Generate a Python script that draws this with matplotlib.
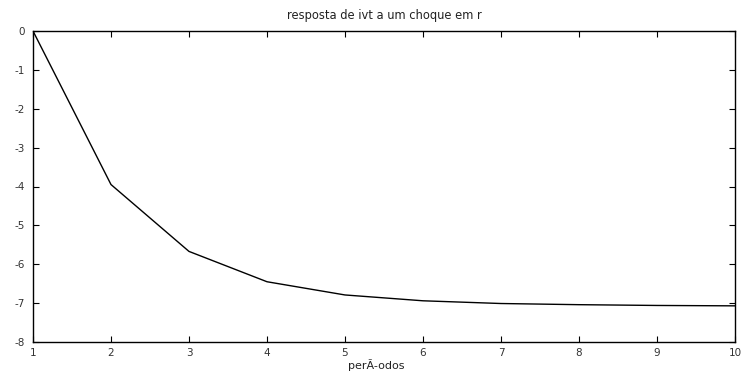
import matplotlib
matplotlib.use('Agg')
from matplotlib import pyplot as plt

periodos = [1, 2, 3, 4, 5, 6, 7, 8, 9, 10]
resposta = [0.0, -3.95, -5.67, -6.45, -6.79, -6.94, -7.01, -7.04, -7.06, -7.07]

plt.rcParams['font.family'] = ['DejaVu Sans']
plt.rcParams['axes.unicode_minus'] = False

fig = plt.figure(figsize=(7.41, 3.73), dpi=100)
ax = fig.add_axes([33/741, 31/373, 702/741, 311/373])

ax.plot(periodos, resposta, color='black', linewidth=1.0)

ax.set_xlim(1, 10)
ax.set_ylim(-8, 0)
ax.set_xticks(range(1, 11))
ax.set_yticks(range(-8, 1))
ax.tick_params(direction='in', length=4, width=0.8, labelsize=7.5,
               labelcolor='#333333', top=True, right=True)
ax.tick_params(axis='x', pad=4)
ax.tick_params(axis='y', pad=6)
for s in ax.spines.values():
    s.set_linewidth(1.0)

ax.set_title('resposta de ivt a um choque em r', fontsize=8.3, pad=9,
             color='#222222')
ax.set_xlabel('perÃ-odos', fontsize=8, labelpad=1, color='#222222')
ax.xaxis.set_label_coords(0.489, -0.055)

fig.savefig('out.png', dpi=100)
